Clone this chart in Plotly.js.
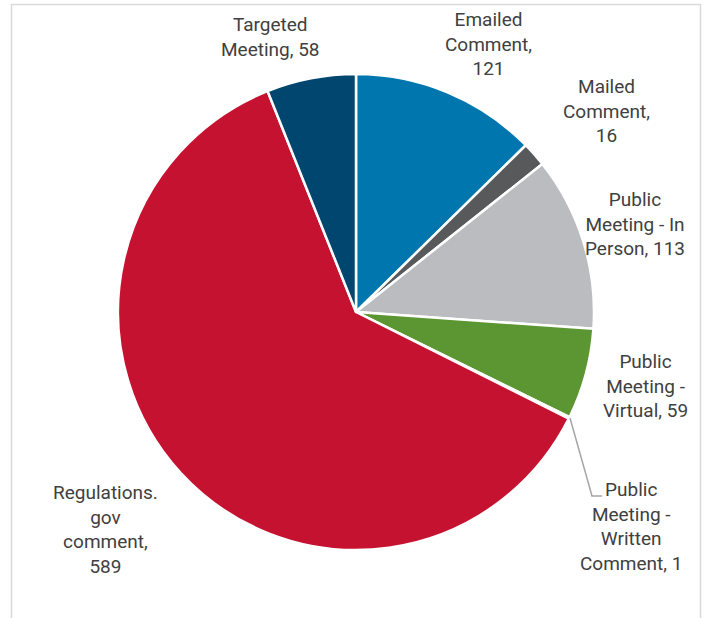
<!DOCTYPE html>
<html>
<head>
<meta charset="utf-8">
<script src="https://cdn.plot.ly/plotly-3.0.1.min.js"></script>
<style>html,body{margin:0;padding:0;background:#fff;}#chart{width:705px;height:618px;}</style>
</head>
<body>
<div id="chart"></div>
<script>
// Data
const categories = ["Emailed Comment", "Mailed Comment", "Public Meeting - In Person", "Public Meeting - Virtual", "Public Meeting - Written Comment", "Regulations.gov comment", "Targeted Meeting"];
const values = [121, 16, 113, 59, 1, 589, 58];
// Display label lines (text split as in the original)
const labelLines = [
  ["Emailed", "Comment,"],
  ["Mailed", "Comment,"],
  ["Public", "Meeting - In", "Person, "],
  ["Public", "Meeting -", "Virtual, "],
  ["Public", "Meeting -", "Written", "Comment, "],
  ["Regulations.", "gov", "comment,"],
  ["Targeted", "Meeting, "]
];
const colors = ["#0076AE", "#58595B", "#BBBCBF", "#5C9632", "#D9D9D9", "#C41230", "#00466E"];

// Label positions (pixels) – styling only
const W = 705, H = 618;
const labelPos = [[488, 44], [606, 111], [635, 224], [645, 386], [631, 526], [105, 529], [270, 37]];

function labelText(i) {
  const lines = labelLines[i].slice();
  const last = lines.length - 1;
  if (lines[last].endsWith(" ")) lines[last] = lines[last] + values[i];
  else lines.push(String(values[i]));
  return lines.join("<br>");
}

const annotations = categories.map((c, i) => ({
  text: labelText(i),
  x: labelPos[i][0] / W, y: 1 - labelPos[i][1] / H,
  xref: "paper", yref: "paper", xanchor: "center", yanchor: "middle",
  showarrow: false, align: "center",
  font: {family: "Roboto, 'Liberation Sans', sans-serif", size: 19, color: "#404040"}
}));

const cx = 356, cy = 312, r = 238;
const trace = {
  type: "pie",
  labels: categories,
  values: values,
  sort: false,
  direction: "clockwise",
  rotation: 0,
  marker: {colors: colors, line: {color: "#FFFFFF", width: 2.5}},
  textinfo: "none",
  hoverinfo: "label+value",
  showlegend: false,
  domain: {x: [(cx - r) / W, (cx + r) / W], y: [1 - (cy + r) / H, 1 - (cy - r) / H]}
};

const px = (x) => x / W, py = (y) => 1 - y / H;
const layout = {
  width: W, height: H,
  margin: {l: 0, r: 0, t: 0, b: 0},
  paper_bgcolor: "#FFFFFF",
  showlegend: false,
  annotations: annotations,
  shapes: [
    {type: "rect", xref: "paper", yref: "paper", x0: px(11.5), x1: px(700.5), y0: py(640), y1: py(4.5),
     line: {color: "#D9D9D9", width: 1.5}, fillcolor: "rgba(0,0,0,0)"},
    {type: "path", xref: "paper", yref: "paper",
     path: `M ${px(570)} ${py(418)} L ${px(592)} ${py(496)} L ${px(602)} ${py(496)}`,
     line: {color: "#A6A6A6", width: 1.5}}
  ]
};

Plotly.newPlot("chart", [trace], layout, {displayModeBar: false, staticPlot: true});
</script>
</body>
</html>
